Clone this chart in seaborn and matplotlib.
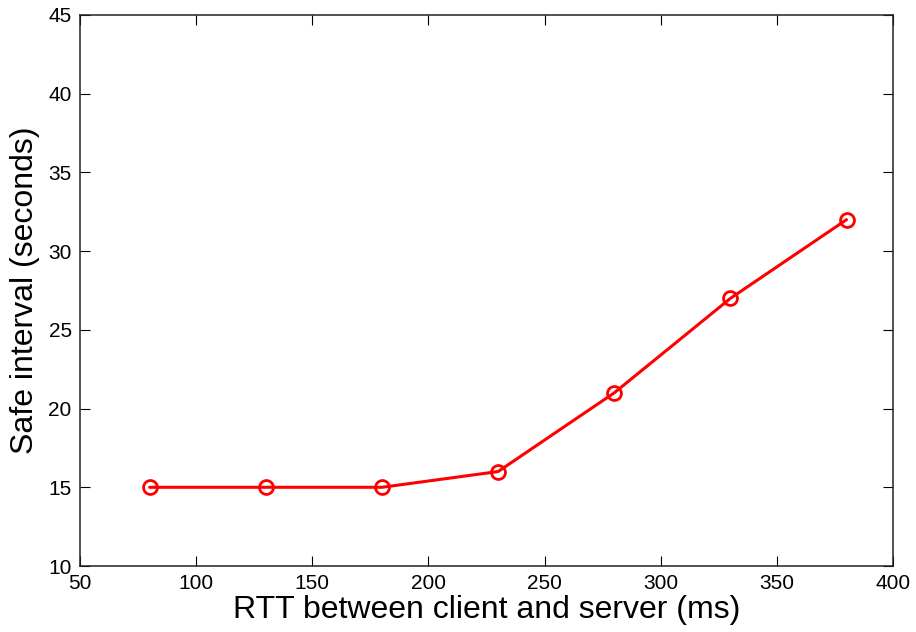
import matplotlib
matplotlib.use("Agg")
import matplotlib.pyplot as plt
import seaborn as sns
import pandas as pd

rtt_ms = [80, 130, 180, 230, 280, 330, 380]
safe_interval_s = [15, 15, 15, 16, 21, 27, 32]
x_ticks = [50, 100, 150, 200, 250, 300, 350, 400]
y_ticks = [10, 15, 20, 25, 30, 35, 40, 45]

sns.set_theme(style="ticks")
plt.rcParams['font.family'] = ['Liberation Sans', 'DejaVu Sans']
plt.rcParams['text.color'] = 'black'
plt.rcParams['axes.labelcolor'] = 'black'

df = pd.DataFrame({"rtt": rtt_ms, "safe": safe_interval_s})

fig = plt.figure(figsize=(9.16, 6.32), dpi=100)
ax = fig.add_axes([80/916, 1-566/632, (893-80)/916, (566-15)/632])

sns.lineplot(data=df, x="rtt", y="safe", ax=ax, color="#ff0000", linewidth=2.2,
             marker="o", markersize=10, markerfacecolor="none",
             markeredgecolor="#ff0000", markeredgewidth=2.0)

ax.set_xlim(50, 400)
ax.set_ylim(10, 45)
ax.set_xticks(x_ticks)
ax.set_yticks(y_ticks)
ax.tick_params(direction="in", length=7, width=0.8, labelsize=15, colors="black",
               top=True, right=True, pad=6)
for s in ax.spines.values():
    s.set_visible(True)
    s.set_linewidth(1.1)
    s.set_color("#222222")
ax.set_xlabel("RTT between client and server (ms)", fontsize=23, labelpad=1, color="black")
ax.set_ylabel("Safe interval (seconds)", fontsize=23, labelpad=6, color="black")

fig.savefig("out.png", dpi=100)
